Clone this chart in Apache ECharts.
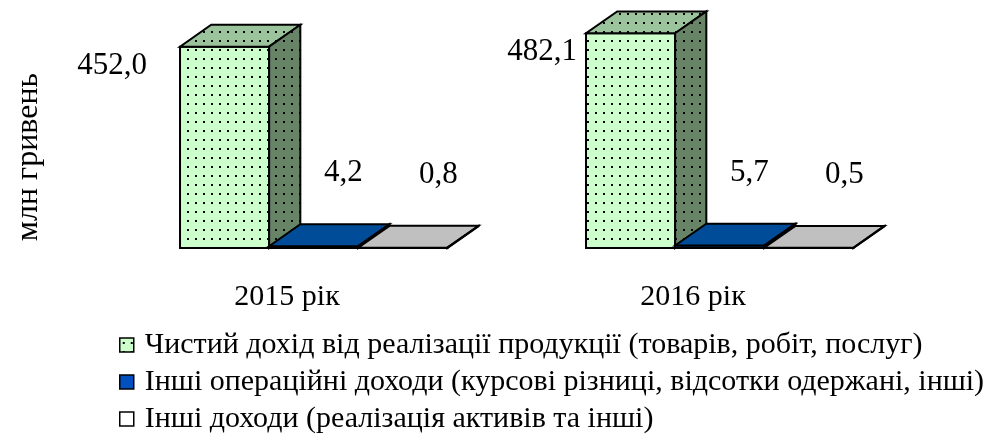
<!DOCTYPE html>
<html>
<head>
<meta charset="utf-8">
<script src="https://cdn.jsdelivr.net/npm/echarts@6/dist/echarts.min.js"></script>
<style>
html,body{margin:0;padding:0;background:#fff;}
#chart{width:989px;height:439px;}
</style>
</head>
<body>
<div id="chart"></div>
<script>
const categories = ['2015 рік', '2016 рік'];
const netRevenue = [452.0, 482.1];
const otherOperating = [4.2, 5.7];
const otherIncome = [0.8, 0.5];
const seriesNames = [
  'Чистий дохід від реалізації продукції (товарів, робіт, послуг)',
  'Інші операційні доходи (курсові різниці, відсотки одержані, інші)',
  'Інші доходи (реалізація активів та інші)'
];
const yTitle = 'млн гривень';

const FONT = '"Liberation Serif", "DejaVu Serif", serif';

function dotPattern(bg) {
  const c = document.createElement('canvas');
  c.width = 8; c.height = 9;
  const g = c.getContext('2d');
  g.fillStyle = bg; g.fillRect(0, 0, 8, 9);
  g.fillStyle = '#000'; g.fillRect(3, 4, 2, 2);
  return { image: c, repeat: 'repeat' };
}

const faces = [
  { front: dotPattern('#CCFFCC'), top: dotPattern('#9CC49C'), side: dotPattern('#678467') },
  { front: '#004C99', top: '#004C99', side: '#003B77' },
  { front: '#C0C0C0', top: '#C0C0C0', side: '#A0A0A0' }
];
const bigGap = [33, 9];

function fmt(v) { return v.toFixed(1).replace('.', ','); }

function makeRender(s) {
  return function (params, api) {
    const i = api.value(0), v = api.value(1);
    const base = api.coord([i, 0]);
    const top = api.coord([i, v]);
    const band = api.size([1, 0])[0];
    const w = band * 0.2195;
    const dx = w * 0.35, dy = -w * 0.245;
    const x0 = base[0] - band * 0.2635 + s * w;
    const yb = base[1], yt = top[1];
    const f = faces[s];
    const stroke = { stroke: '#000', lineWidth: 2, lineJoin: 'miter' };
    const children = [
      { type: 'polygon', shape: { points: [[x0, yt], [x0 + w, yt], [x0 + w, yb], [x0, yb]] },
        style: Object.assign({ fill: f.front }, stroke) },
      { type: 'polygon', shape: { points: [[x0, yt], [x0 + w, yt], [x0 + w + dx, yt + dy], [x0 + dx, yt + dy]] },
        style: Object.assign({ fill: f.top }, stroke) },
      { type: 'polygon', shape: { points: [[x0 + w, yt], [x0 + w + dx, yt + dy], [x0 + w + dx, yb + dy], [x0 + w, yb]] },
        style: Object.assign({ fill: f.side }, stroke) }
    ];
    let lx, ly, align;
    if (s === 0) { lx = x0 - bigGap[i]; ly = yt + 19; align = 'right'; }
    else if (s === 1) { lx = x0 + w / 2 + dx / 2 + 14; ly = yb - 75; align = 'center'; }
    else { lx = x0 + w / 2 + dx / 2 + 20; ly = yb - 73; align = 'center'; }
    children.push({ type: 'text', style: { text: fmt(v), x: lx, y: ly, align: align, verticalAlign: 'middle',
      font: '31px ' + FONT, fill: '#000' } });
    return { type: 'group', children: children };
  };
}

const valueSets = [netRevenue, otherOperating, otherIncome];
const legendColors = [dotPattern('#CCFFCC'), '#0050C0', '#FFFFFF'];

const chart = echarts.init(document.getElementById('chart'), null, { renderer: 'canvas' });
chart.setOption({
  animation: false,
  backgroundColor: '#fff',
  grid: { left: 84, right: 93, top: 25.25, height: 222.75 },
  xAxis: {
    type: 'category', data: categories,
    axisLine: { show: false }, axisTick: { show: false },
    axisLabel: { margin: 34, fontFamily: FONT, fontSize: 30, color: '#000' }
  },
  yAxis: { type: 'value', min: 0, max: 500, show: false },
  legend: {
    orient: 'vertical', left: 114, top: 325, itemGap: 7, itemWidth: 14, itemHeight: 14,
    icon: 'rect', selectedMode: false,
    textStyle: { fontFamily: FONT, fontSize: 30, color: '#000', padding: [0, 0, 0, 6] },
    data: seriesNames.map((n, k) => ({ name: n, itemStyle: { color: legendColors[k], borderColor: '#000', borderWidth: 1.5 } }))
  },
  graphic: [{
    type: 'text', x: 29, y: 157, rotation: Math.PI / 2,
    style: { text: yTitle, font: '32px ' + FONT, fill: '#000', align: 'center', verticalAlign: 'middle' }
  }],
  series: valueSets.map((vals, s) => ({
    type: 'custom', name: seriesNames[s],
    renderItem: makeRender(s),
    itemStyle: { color: typeof legendColors[s] === 'string' ? legendColors[s] : '#CCFFCC' },
    encode: { x: 0, y: 1 },
    data: vals.map((v, i) => [i, v])
  }))
});
</script>
</body>
</html>
